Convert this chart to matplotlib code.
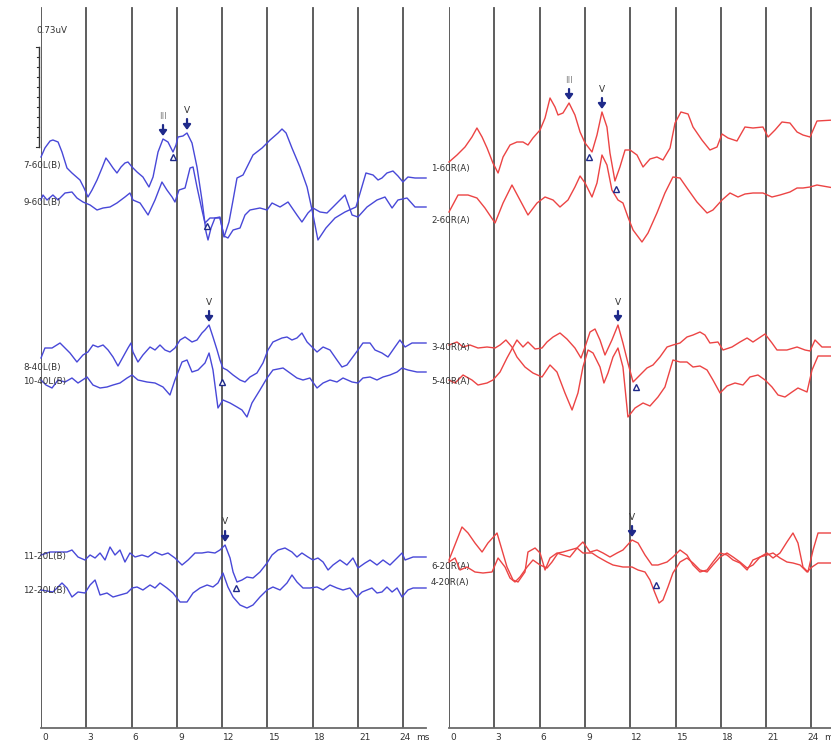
import numpy as np
import matplotlib.pyplot as plt

# ABR waveforms: latency (ms) and amplitude in calibration units (1.0 = 0.73 uV bar)
# ---- left ear (blue) ----
T_7_60L = [0, 0.26, 0.60, 0.79, 1.13, 1.39, 1.72, 2.05, 2.58, 2.85, 3.11, 3.38, 3.71, 4.04, 4.30,
           4.50, 4.77, 5.03, 5.30, 5.56, 5.76, 6.03, 6.36, 6.75, 6.95, 7.15, 7.42, 7.75, 8.08, 8.41,
           8.74, 8.94, 9.07, 9.40, 9.67, 10.00, 10.33, 10.66, 10.93, 11.06, 11.26, 11.52, 11.85,
           12.12, 12.45, 12.72, 12.98, 13.38, 13.71, 14.04, 14.64, 15.17, 15.70, 15.96, 16.23,
           16.62, 17.15, 17.62, 17.95, 18.34, 18.87, 19.47, 20.13, 20.86, 21.19, 21.52, 21.99,
           22.32, 22.58, 22.91, 23.31, 23.64, 23.97, 24.30, 24.77, 25.50]
A_7_60L = [0, .09, .16, .17, .15, .05, -.11, -.16, -.23, -.31, -.40, -.33, -.23, -.11, -.01,
           -.05, -.11, -.16, -.10, -.06, -.05, -.10, -.15, -.20, -.25, -.30, -.20, .05, .18, .15,
           .05, .12, .20, .21, .24, .14, -.10, -.43, -.75, -.83, -.71, -.61, -.60,
           -.80, -.65, -.43, -.21, -.18, -.08, .02, .09, .17, .24, .28, .24,
           .09, -.10, -.30, -.53, -.83, -.71, -.61, -.55, -.50, -.33, -.16, -.18,
           -.23, -.21, -.16, -.14, -.19, -.25, -.20, -.21, -.21]

T_9_60L = [0, .13, .40, .79, 1.13, 1.59, 2.05, 2.38, 2.78, 3.25, 3.71, 4.11, 4.57, 5.03, 5.56,
           5.89, 6.09, 6.56, 7.09, 7.55, 8.01, 8.34, 8.68, 8.87, 9.14, 9.54, 9.87, 10.07, 10.33,
           10.66, 10.86, 11.19, 11.85, 12.12, 12.38, 12.72, 13.18, 13.51, 13.84, 14.50, 14.97,
           15.30, 15.83, 16.36, 16.95, 17.28, 17.68, 18.01, 18.48, 18.94, 19.34, 20.13, 20.60,
           20.99, 21.59, 22.25, 22.78, 23.25, 23.64, 24.24, 24.77, 25.50]
A_9_60L = [0, .05, 0, .05, 0, .07, .08, .02, -.02, -.05, -.10, -.08, -.07, -.03, .03,
           .07, 0, -.03, -.15, 0, .18, .10, .03, -.02, .10, .12, .32, .33, .13,
           -.10, -.23, -.18, -.18, -.36, -.38, -.30, -.28, -.15, -.10, -.08, -.10,
           -.03, -.07, -.02, -.15, -.22, -.13, -.08, -.12, -.13, -.07, .05, -.15,
           -.17, -.07, 0, .03, -.08, 0, .02, -.07, -.07]

T_8_40L = [0, .26, .73, 1.26, 1.59, 1.92, 2.38, 2.78, 3.11, 3.44, 3.77, 4.11, 4.44, 4.77, 5.10,
           5.43, 5.76, 5.96, 6.09, 6.42, 6.75, 7.22, 7.55, 7.88, 8.21, 8.54, 8.87, 9.21, 9.54,
           10.00, 10.33, 10.66, 10.86, 11.13, 11.39, 11.66, 11.85, 12.05, 12.32, 12.72, 13.18,
           13.51, 13.84, 14.30, 14.70, 15.03, 15.36, 15.96, 16.29, 16.62, 16.95, 17.28, 17.62,
           17.95, 18.28, 18.68, 19.14, 19.60, 19.93, 20.26, 20.60, 20.99, 21.32, 21.79, 22.12,
           22.58, 22.98, 23.44, 23.77, 24.11, 24.57, 25.50]
A_8_40L = [0, .10, .10, .15, .10, .05, -.04, .03, .06, .13, .11, .13, .08, .01, -.08,
           .01, .10, .15, .06, -.04, .03, .11, .08, .13, .08, .06, .10, .18, .21,
           .16, .18, .25, .28, .33, .21, .08, -.02, -.10, -.12, -.17, -.22,
           -.24, -.19, -.15, -.05, .08, .16, .20, .21, .18, .20, .25, .16,
           .11, .06, .11, .08, -.02, -.09, -.07, 0, .08, .15, .15, .08,
           .05, .01, .11, .18, .11, .15, .15]

T_10_40L = [0, .33, .73, 1.13, 1.59, 2.05, 2.45, 3.05, 3.44, 3.91, 4.37, 4.77, 5.23, 5.70, 6.03,
            6.42, 7.02, 7.55, 8.08, 8.54, 8.87, 9.34, 9.67, 10.00, 10.40, 10.86, 11.13, 11.39,
            11.72, 12.05, 12.52, 12.98, 13.31, 13.64, 13.97, 14.50, 14.97, 15.36, 16.03, 16.49,
            16.95, 17.35, 17.81, 18.28, 18.68, 19.14, 19.60, 20.00, 20.60, 20.99, 21.32, 21.79,
            22.25, 22.65, 23.11, 23.58, 23.91, 24.30, 24.90, 25.50]
A_10_40L = [0, -.05, -.08, 0, -.02, .02, -.03, .03, -.05, -.08, -.07, -.05, -.03, .02, .05,
            0, -.02, -.03, -.07, -.15, 0, .18, .20, .08, .10, .17, .27, .10,
            -.28, -.20, -.23, -.27, -.30, -.37, -.23, -.10, .02, .10, .12, .07,
            .02, 0, .02, -.08, -.03, 0, -.02, .02, -.02, -.03, .02, .03,
            0, .03, .05, .08, .12, .10, .08, .08]

T_11_20L = [0, .60, 1.13, 1.72, 2.05, 2.45, 2.91, 3.25, 3.58, 3.91, 4.24, 4.57, 4.90, 5.23, 5.56,
            5.89, 6.23, 6.69, 7.09, 7.55, 8.01, 8.41, 8.87, 9.34, 9.74, 10.20, 10.66, 11.06,
            11.52, 11.85, 12.19, 12.52, 12.72, 12.98, 13.31, 13.64, 14.04, 14.50, 14.97, 15.30,
            15.70, 16.16, 16.62, 16.95, 17.28, 17.68, 18.01, 18.34, 18.68, 19.01, 19.34, 19.80,
            20.26, 20.66, 20.99, 21.46, 21.79, 22.25, 22.65, 23.11, 23.58, 23.91, 24.11, 24.64, 25.50]
A_11_20L = [0, .03, .03, .03, .05, -.02, -.05, 0, -.03, .02, -.05, .08, 0, .05, -.07,
            .02, -.02, 0, -.02, .03, 0, .02, -.03, -.10, -.05, .02, .02, .03,
            .02, .05, .10, -.03, -.17, -.27, -.25, -.22, -.23, -.17, -.08, 0,
            .05, .07, .03, -.02, .02, -.02, -.05, -.03, -.07, -.15, -.10, -.05,
            -.10, -.03, -.13, -.08, -.05, -.10, -.05, -.10, -.03, .02, -.05, -.02, -.02]

T_12_20L = [0, .79, 1.39, 1.72, 2.05, 2.45, 2.91, 3.25, 3.58, 3.91, 4.37, 4.77, 5.23, 5.70, 6.03,
            6.36, 6.75, 7.22, 7.55, 7.88, 8.34, 8.74, 9.21, 9.67, 10.07, 10.53, 11.00, 11.39,
            11.72, 12.05, 12.38, 12.72, 13.18, 13.64, 14.04, 14.50, 14.97, 15.36, 15.83, 16.29,
            16.62, 16.95, 17.35, 17.81, 18.28, 18.68, 19.14, 19.60, 20.00, 20.46, 20.93, 21.26,
            21.59, 21.92, 22.25, 22.58, 22.91, 23.25, 23.58, 23.91, 24.30, 24.64, 25.50]
A_12_20L = [0, -.02, .07, .02, -.07, -.02, -.03, .05, .10, -.05, -.03, -.07, -.05, -.03, .02,
            .03, 0, .05, .02, .07, .02, -.03, -.12, -.12, -.03, .02, .05, .03,
            .07, .17, .03, -.07, -.15, -.18, -.15, -.07, 0, .03, 0, .07,
            .15, .08, .02, .02, .03, 0, .05, .02, 0, .02, -.07, -.02,
            0, .02, -.03, -.02, .03, -.02, .02, -.07, 0, .02, .02]

# ---- right ear (red) ----
T_1_60R = [0, .53, 1.06, 1.52, 1.85, 2.19, 2.52, 2.91, 3.25, 3.58, 4.04, 4.50, 4.90, 5.23, 5.56,
           6.03, 6.36, 6.69, 7.02, 7.22, 7.55, 7.95, 8.34, 8.68, 9.01, 9.47, 9.80, 10.13, 10.46,
           10.66, 10.99, 11.32, 11.66, 11.99, 12.45, 12.85, 13.31, 13.77, 14.17, 14.64, 14.97,
           15.36, 15.83, 16.16, 16.75, 17.28, 17.75, 18.08, 18.48, 19.07, 19.60, 20.13, 20.79,
           21.13, 21.59, 22.05, 22.58, 23.05, 23.44, 23.91, 24.37, 25.50]
A_1_60R = [0, .07, .15, .25, .34, .25, .14, -.01, -.11, .05, .17, .20, .20, .17, .24,
           .32, .44, .64, .55, .47, .49, .59, .47, .30, .19, .10, .27, .50, .35,
           .09, -.19, -.05, .12, .12, .07, -.05, .03, .05, .02, .14, .39,
           .50, .48, .35, .22, .12, .15, .28, .24, .21, .35, .34, .35,
           .25, .32, .40, .39, .30, .27, .25, .41, .42]

T_2_60R = [0, .60, 1.26, 1.85, 2.38, 3.05, 3.58, 4.17, 4.70, 5.23, 5.83, 6.36, 6.89, 7.35, 7.88,
           8.34, 8.68, 9.01, 9.47, 9.80, 10.13, 10.46, 10.79, 11.19, 11.52, 11.85, 12.19, 12.78,
           13.18, 13.77, 14.30, 14.83, 15.30, 15.76, 16.42, 17.09, 17.48, 18.08, 18.61, 19.14,
           19.60, 20.13, 20.79, 21.39, 21.92, 22.58, 23.05, 23.44, 23.91, 24.37, 25.50]
A_2_60R = [0, .17, .17, .14, .04, -.11, .09, .27, .12, -.03, .09, .15, .12, .05, .12,
           .25, .36, .29, .15, .29, .57, .47, .22, .12, .09, -.05, -.18, -.30,
           -.21, -.01, .19, .35, .34, .24, .10, -.01, .02, .12, .19, .15,
           .18, .19, .19, .15, .17, .20, .24, .24, .25, .27, .24]

T_3_40R = [0, .53, .93, 1.39, 1.92, 2.52, 3.05, 3.38, 3.77, 4.17, 4.50, 5.03, 5.56, 6.16, 6.69,
           7.15, 7.68, 8.15, 8.54, 8.87, 9.21, 9.54, 10.00, 10.26, 10.53, 10.86, 11.19, 11.52,
           11.85, 12.32, 12.85, 13.31, 13.84, 14.30, 14.83, 15.30, 15.76, 16.16, 16.62, 17.09,
           17.48, 17.95, 18.41, 18.94, 19.47, 19.93, 20.46, 20.93, 21.39, 21.79, 22.25, 22.72,
           23.11, 23.71, 24.04, 24.44, 25.50]
A_3_40R = [0, .03, -.02, 0, -.03, -.02, -.03, 0, .05, -.02, -.12, -.22, -.28, -.32, -.20,
           -.27, -.48, -.65, -.48, -.22, -.05, -.08, -.22, -.38, -.28, -.12, -.03, -.22,
           -.72, -.63, -.58, -.61, -.52, -.42, -.15, -.17, -.17, -.22, -.21, -.25,
           -.35, -.48, -.41, -.38, -.40, -.32, -.30, -.35, -.42, -.50, -.52, -.47,
           -.43, -.47, -.25, -.11, -.11]

T_5_40R = [0, .40, .93, 1.52, 1.92, 2.52, 2.91, 3.38, 3.84, 4.24, 4.50, 4.90, 5.23, 5.70, 6.16,
           6.49, 6.89, 7.35, 7.81, 8.34, 8.74, 9.01, 9.34, 9.67, 10.00, 10.33, 10.79, 11.19,
           11.52, 11.85, 12.19, 12.65, 13.11, 13.51, 13.97, 14.44, 14.83, 15.30, 15.76, 16.16,
           16.62, 16.95, 17.28, 17.81, 18.15, 18.74, 19.27, 19.74, 20.13, 20.93, 21.39, 21.72,
           22.38, 23.05, 23.58, 23.91, 24.24, 24.70, 25.50]
A_5_40R = [0, -.03, .05, 0, -.05, -.03, 0, .08, .22, .33, .40, .33, .38, .31, .32,
           .38, .43, .47, .41, .32, .22, .33, .48, .51, .40, .25, .40, .55,
           .37, .17, -.02, .05, .12, .15, .23, .33, .35, .37, .43, .45,
           .48, .45, .37, .38, .30, .33, .38, .42, .38, .46, .37, .30,
           .30, .33, .30, .29, .40, .33, .33]

T_6_20R = [0, .86, 1.26, 1.72, 2.19, 2.58, 3.18, 3.51, 3.84, 4.24, 4.57, 5.03, 5.23, 5.70, 6.03,
           6.36, 6.69, 7.15, 7.55, 8.01, 8.54, 8.87, 9.34, 9.80, 10.20, 10.66, 11.13, 11.52,
           12.12, 12.52, 12.98, 13.44, 13.84, 14.44, 14.83, 15.30, 15.76, 16.16, 16.62, 17.09,
           17.48, 17.95, 18.41, 18.81, 19.27, 19.74, 20.13, 20.60, 21.06, 21.46, 21.92, 22.38,
           22.78, 23.11, 23.44, 23.77, 24.11, 24.44, 25.50]
A_6_20R = [.01, .34, .28, .18, .09, .18, .28, .11, -.06, -.19, -.21, -.11, .09, .13, .08,
           -.09, .03, .08, .06, .04, .14, .19, .09, .11, .08, .04, .08, .11,
           .21, .18, .06, -.04, -.04, -.01, .04, .11, .06, -.04, -.11, -.09,
           -.01, .08, .06, .01, -.02, -.09, .01, .04, .08, .03, .08, .19,
           .28, .18, -.06, -.11, .11, .28, .28]

T_4_20R = [0, .40, .73, 1.19, 1.72, 2.25, 2.85, 3.25, 3.71, 4.04, 4.37, 4.70, 5.17, 5.56, 6.03,
           6.49, 6.82, 7.22, 7.55, 8.01, 8.48, 8.87, 9.47, 9.87, 10.46, 10.86, 11.52, 12.12,
           12.52, 12.98, 13.31, 13.64, 13.91, 14.17, 14.50, 14.83, 15.30, 15.76, 16.16, 16.62,
           17.09, 17.48, 17.95, 18.41, 18.81, 19.27, 19.74, 20.13, 20.60, 21.06, 21.46, 21.92,
           22.38, 22.78, 23.25, 23.71, 24.04, 24.44, 25.50]
A_4_20R = [-.01, .03, -.09, -.06, -.11, -.12, -.11, .03, -.06, -.17, -.21, -.16, -.06, .01, -.04,
           -.07, -.01, .08, .09, .11, .13, .08, .08, .04, -.01, -.04, -.06, -.06,
           -.09, -.11, -.19, -.32, -.42, -.39, -.26, -.12, -.01, .03, -.02, -.09,
           -.11, -.04, .04, .08, .04, -.01, -.07, -.04, .04, .06, .08, .03,
           -.01, -.02, -.04, -.11, -.06, -.02, -.02]

# peak markers (trace, label, latency ms) and trough triangles (trace, latency ms, amplitude)
ARROWS_L = [('7-60L(B)', 'III', 8.08), ('7-60L(B)', 'V', 9.67),
            ('8-40L(B)', 'V', 11.13), ('11-20L(B)', 'V', 12.19)]
ARROWS_R = [('1-60R(A)', 'III', 7.95), ('1-60R(A)', 'V', 10.13),
            ('5-40R(A)', 'V', 11.19), ('6-20R(A)', 'V', 12.12)]
TRI_L = [('7-60L(B)', 8.74, 0.0), ('9-60L(B)', 11.0, -0.26),
         ('8-40L(B)', 11.99, -0.24), ('11-20L(B)', 12.91, -0.33)]
TRI_R = [('1-60R(A)', 9.27, 0.05), ('2-60R(A)', 11.06, 0.23),
         ('5-40R(A)', 12.38, -0.07), ('6-20R(A)', 13.71, -0.24)]

XTICKS = [0, 3, 6, 9, 12, 15, 18, 21, 24]

# layout (pixel rows: trace baseline, label row)
LEFT = [('7-60L(B)', T_7_60L, A_7_60L, 157, 165), ('9-60L(B)', T_9_60L, A_9_60L, 200, 202),
        ('8-40L(B)', T_8_40L, A_8_40L, 358, 367), ('10-40L(B)', T_10_40L, A_10_40L, 380, 381),
        ('11-20L(B)', T_11_20L, A_11_20L, 555, 556), ('12-20L(B)', T_12_20L, A_12_20L, 590, 591)]
RIGHT = [('1-60R(A)', T_1_60R, A_1_60R, 162, 168), ('2-60R(A)', T_2_60R, A_2_60R, 212, 220),
         ('3-40R(A)', T_3_40R, A_3_40R, 345, 347), ('5-40R(A)', T_5_40R, A_5_40R, 380, 381),
         ('6-20R(A)', T_6_20R, A_6_20R, 561, 567), ('4-20R(A)', T_4_20R, A_4_20R, 561, 583)]

W, H = 831, 745
MS_PX = 15.1
AXIS_ROW = 728
NAVY = '#1f2a8a'
TXT = '#333333'

fig = plt.figure(figsize=(W / 100, H / 100), dpi=100)


def make_panel(x0):
    ax = fig.add_axes([x0 / W, (H - AXIS_ROW) / H, 385 / W, AXIS_ROW / H])
    ax.set_xlim(0, 385 / MS_PX)
    ax.set_ylim(-AXIS_ROW / 100, 0)
    for s in ['top', 'right', 'left']:
        ax.spines[s].set_visible(False)
    ax.spines['bottom'].set_color('#6a6a6a')
    ax.spines['bottom'].set_linewidth(1.3)
    ax.set_xticks([])
    ax.set_yticks([])
    ax.patch.set_alpha(0)
    for t in XTICKS:
        ax.axvline(t, ymin=0, ymax=(AXIS_ROW - 8) / AXIS_ROW, color='#505050', lw=1.3, zorder=1)
        ax.text(t + 0.08 if t < 24 else t - 0.3, -7.37, str(t), ha='left', va='center',
                fontsize=6.5, color=TXT)
    ax.text(24.85, -7.37, 'ms', ha='left', va='center', fontsize=6.5, color=TXT)
    return ax


def draw_panel(ax, traces, color, arrows, tris):
    rows = {}
    for name, t, a, base, lab in traces:
        y = -base / 100 + np.array(a)
        rows[name] = (np.array(t), y)
        ax.plot(t, y, color=color, lw=1.0, zorder=3, clip_on=False)
        ax.text(-1.19, -lab / 100, name, ha='left', va='center', fontsize=6.3, color=TXT)
    for name, lab, t in arrows:
        tt, yy = rows[name]
        yp = np.interp(t, tt, yy)
        ax.annotate('', xy=(t, yp + 0.03), xytext=(t, yp + 0.14),
                    arrowprops=dict(arrowstyle='-|>,head_width=0.22,head_length=0.3',
                                    color=NAVY, lw=1.6, shrinkA=0, shrinkB=0), zorder=4)
        ax.text(t, yp + 0.23, lab, ha='center', va='center', fontsize=6.5,
                color='#8a8a8a' if lab == 'III' else TXT)
    for name, t, a in tris:
        base = [b for n, _, _, b, _ in traces if n == name][0]
        ax.plot(t, -base / 100 + a, marker='^', ms=4.5, mfc='white', mec=NAVY, mew=1.0, zorder=4)


ax_l = make_panel(41)
ax_r = make_panel(449)
draw_panel(ax_l, LEFT, '#4848d8', ARROWS_L, TRI_L)
draw_panel(ax_r, RIGHT, '#ec4444', ARROWS_R, TRI_R)

# calibration bar
ax_l.plot([-0.1, -0.1], [-0.47, -1.47], color=TXT, lw=1.0, clip_on=False)
for k in range(11):
    ln = 0.26 if k in (0, 10) else 0.14
    ax_l.plot([-0.1 - ln, -0.1], [-0.47 - k / 10] * 2, color=TXT, lw=0.8, clip_on=False)
ax_l.text(0.7, -0.30, '0.73uV', ha='center', va='center', fontsize=6.3, color=TXT)

fig.savefig('out.png', dpi=100)
